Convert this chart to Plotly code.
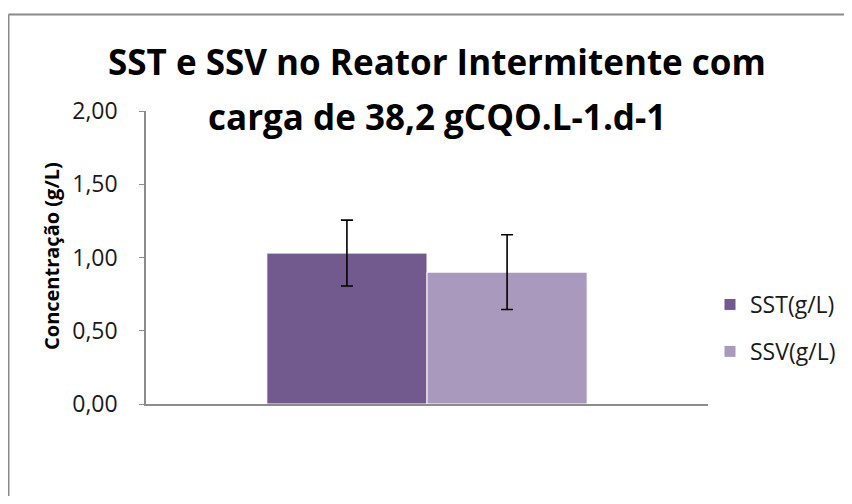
import plotly.graph_objects as go

# data
categories = ["38,2 gCQO.L-1.d-1"]
series_names = ["SST(g/L)", "SSV(g/L)"]
sst_values = [1.03]
ssv_values = [0.90]
sst_errors = [0.225]
ssv_errors = [0.255]
y_ticks = [0.0, 0.5, 1.0, 1.5, 2.0]

colors = ["#72598e", "#a99abd"]

fig = go.Figure()

for i, (name, vals, errs) in enumerate(zip(series_names, [sst_values, ssv_values], [sst_errors, ssv_errors])):
    fig.add_trace(go.Bar(
        x=categories,
        y=vals,
        name=name,
        legendgroup=name,
        marker=dict(color=colors[i], line=dict(color="white", width=1)),
        error_y=dict(type="data", array=errs, visible=True,
                     color="black", thickness=1.6, width=6),
    ))

# page sits 8px inside the window (body margin); keep it from scrolling
OFF = 8
W, H = 852 - 2 * OFF, 504 - 2 * OFF
L, R, T, B = 146 - OFF, W - (708 - OFF), 111 - OFF, H - (404 - OFF)
pw, ph = W - L - R, H - T - B

# window pixel -> paper coords
def px(x):
    return (x - OFF - L) / pw

def py(y):
    return (H - B - (y - OFF)) / ph

fig.update_layout(
    width=W, height=H,
    margin=dict(l=L, r=R, t=T, b=B, autoexpand=False),
    paper_bgcolor="white", plot_bgcolor="white",
    barmode="group", bargap=0.43, bargroupgap=0,
    separators=",.",
    font=dict(family="Open Sans", color="#1a1a1a"),
    showlegend=True,
    legend=dict(x=px(710), xanchor="left", y=py(328), yanchor="middle",
                font=dict(size=23, family="Open Sans", color="#1a1a1a"),
                tracegroupgap=14, bgcolor="rgba(0,0,0,0)"),
)

fig.update_xaxes(showline=True, linecolor="#8c8c8c", linewidth=1.5,
                 showticklabels=False, ticks="", showgrid=False, zeroline=False)
fig.update_yaxes(range=[0, 2], tickvals=y_ticks, tickformat=".2f",
                 showline=True, linecolor="#8c8c8c", linewidth=1.5,
                 ticks="outside", ticklen=5, tickcolor="#8c8c8c",
                 tickfont=dict(size=23, family="Open Sans", color="#1a1a1a"),
                 ticklabelstandoff=17,
                 showgrid=False, zeroline=False)

# title lines
fig.add_annotation(text="<b>SST e SSV no Reator Intermitente com</b>",
                   x=px(437), y=py(62), xref="paper", yref="paper",
                   xanchor="center", yanchor="middle",
                   showarrow=False, font=dict(size=35, family="Open Sans", color="black"))
fig.add_annotation(text="<b>carga de 38,2 gCQO.L-1.d-1</b>",
                   x=px(437), y=py(117), xref="paper", yref="paper",
                   xanchor="center", yanchor="middle",
                   showarrow=False, font=dict(size=35, family="Open Sans", color="black"))

# y axis title
fig.add_annotation(text="<b>Concentração (g/L)</b>", textangle=-90,
                   x=px(51), y=py(256), xref="paper", yref="paper",
                   xanchor="center", yanchor="middle",
                   showarrow=False, font=dict(size=20, family="Open Sans", color="black"))

# chart frame: only top and left edges are visible in the crop
frame = dict(color="#8a8a8a", width=2)
fig.add_shape(type="line", xref="paper", yref="paper",
              x0=px(8.5), x1=px(W + OFF), y0=py(14.5), y1=py(14.5), line=frame)
fig.add_shape(type="line", xref="paper", yref="paper",
              x0=px(8.5), x1=px(8.5), y0=py(14.5), y1=py(H + OFF), line=frame)

fig.write_html("out.html")
